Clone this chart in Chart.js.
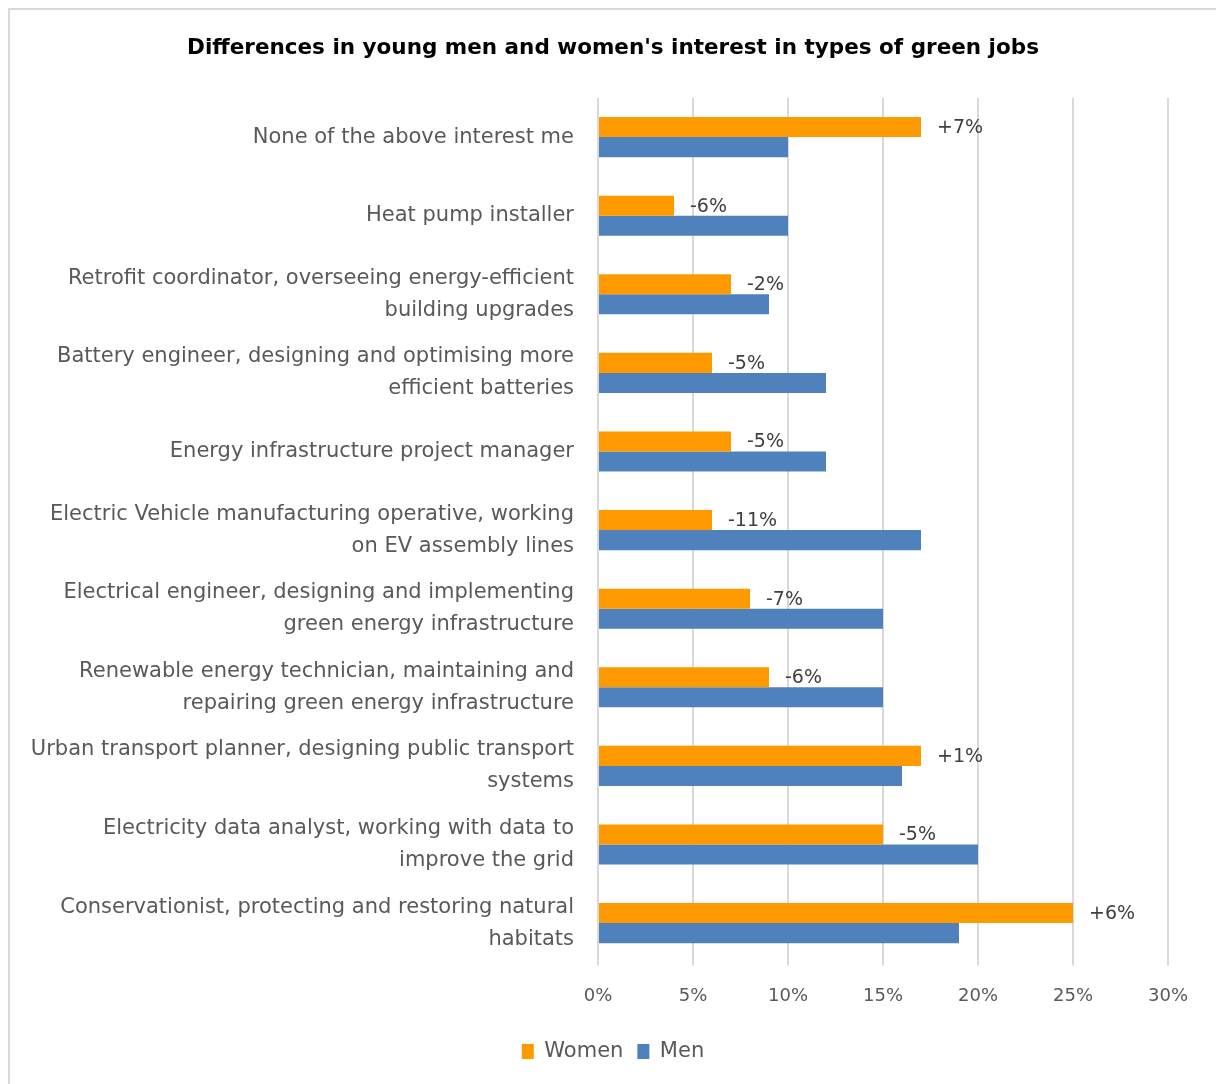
<!DOCTYPE html>
<html>
<head>
<meta charset="utf-8">
<script src="https://cdn.jsdelivr.net/npm/chart.js@4.4.1/dist/chart.umd.min.js"></script>
<style>
  html, body { margin: 0; padding: 0; background: #fff; }
  #wrap { position: relative; width: 1216px; height: 1084px; overflow: hidden; }
  #frame { position: absolute; left: 8px; top: 8px; width: 1300px; height: 1200px;
           border-left: 2px solid #d9d9d9; border-top: 2px solid #d9d9d9; pointer-events: none; }
  canvas { position: absolute; left: 0; top: 0; }
</style>
</head>
<body>
<div id="wrap">
  <div id="frame"></div>
  <canvas id="chart" width="1216" height="1084"></canvas>
</div>
<script>
// Datos del gráfico
const jobs = [
    ["None of the above interest me"],
    ["Heat pump installer"],
    ["Retrofit coordinator, overseeing energy-efficient", "building upgrades"],
    ["Battery engineer, designing and optimising more", "efficient batteries"],
    ["Energy infrastructure project manager"],
    ["Electric Vehicle manufacturing operative, working", "on EV assembly lines"],
    ["Electrical engineer, designing and implementing", "green energy infrastructure"],
    ["Renewable energy technician, maintaining and", "repairing green energy infrastructure"],
    ["Urban transport planner, designing public transport", "systems"],
    ["Electricity data analyst, working with data to", "improve the grid"],
    ["Conservationist, protecting and restoring natural", "habitats"]
];
const women = [17, 4, 7, 6, 7, 6, 8, 9, 17, 15, 25];
const men = [10, 10, 9, 12, 12, 17, 15, 15, 16, 20, 19];
const gapLabels = ["+7%", "-6%", "-2%", "-5%", "-5%", "-11%", "-7%", "-6%", "+1%", "-5%", "+6%"];

const FONT = "'DejaVu Sans', sans-serif";
const TEXT = "#595959";

// Etiquetas de diferencia junto a las barras de mujeres
const gapLabelPlugin = {
    id: 'gapLabels',
    afterLayout(chart) {
        // las etiquetas largas del eje y no deben recortarse en el margen izquierdo
        chart.scales.y.left = 0;
    },
    afterDatasetsDraw(chart) {
        const meta = chart.getDatasetMeta(0);
        const ctx = chart.ctx;
        ctx.save();
        ctx.font = "19px " + FONT;
        ctx.fillStyle = "#404040";
        ctx.textAlign = "left";
        ctx.textBaseline = "middle";
        meta.data.forEach((bar, i) => {
            ctx.fillText(gapLabels[i], bar.x + 16, bar.y + 1);
        });
        ctx.restore();
    }
};

const ctx = document.getElementById('chart').getContext('2d');

const chart = new Chart(ctx, {
    type: 'bar',
    data: {
        labels: jobs,
        datasets: [
            {
                label: 'Women',
                data: women,
                backgroundColor: '#ff9900',
                barPercentage: 1,
                categoryPercentage: 0.51
            },
            {
                label: 'Men',
                data: men,
                backgroundColor: '#4f81bd',
                barPercentage: 1,
                categoryPercentage: 0.51
            }
        ]
    },
    options: {
        indexAxis: 'y',
        responsive: false,
        animation: false,
        layout: {
            padding: { left: 58, right: 48, bottom: 12 }
        },
        scales: {
            x: {
                min: 0,
                max: 30,
                position: 'bottom',
                border: { display: false },
                grid: { color: '#d9d9d9', lineWidth: 2, tickLength: 3 },
                ticks: {
                    stepSize: 5,
                    padding: 20,
                    color: TEXT,
                    font: { family: FONT, size: 18 },
                    callback: (v) => v + '%'
                }
            },
            y: {
                border: { display: false },
                grid: { display: false, drawTicks: false },
                afterFit: (scale) => { scale.width = 540; },
                ticks: {
                    padding: 24,
                    color: TEXT,
                    font: { family: FONT, size: 21, lineHeight: 1.52 }
                }
            }
        },
        plugins: {
            title: {
                display: true,
                text: "Differences in young men and women's interest in types of green jobs",
                color: '#000',
                font: { family: FONT, size: 21.5, weight: 'bold' },
                padding: { top: 36, bottom: 36 }
            },
            legend: {
                position: 'bottom',
                labels: {
                    boxWidth: 12,
                    boxHeight: 15,
                    padding: 14,
                    color: TEXT,
                    font: { family: FONT, size: 21 }
                }
            },
            tooltip: { enabled: false }
        }
    },
    plugins: [gapLabelPlugin]
});
</script>
</body>
</html>
